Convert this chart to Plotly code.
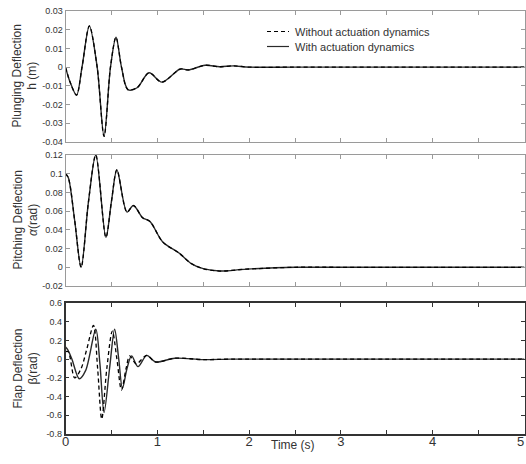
import plotly.graph_objects as go

# ---- data ----
t_h = [0, 0.05, 0.12, 0.18, 0.26, 0.345, 0.42, 0.49, 0.55, 0.61, 0.68, 0.78, 0.91, 1.05, 1.25, 1.34, 1.52, 1.68, 1.83, 2.0, 2.5, 3.0, 3.5, 4.0, 4.5, 5.0]
h_without = [0, -0.008, -0.015, 0.0, 0.022, 0.0, -0.037, 0.0, 0.016, 0.0, -0.012, -0.011, -0.003, -0.008, -0.001, -0.0015, 0.001, 0.0002, 0.0007, 0.0, 0, 0, 0, 0, 0, 0]
h_with = [0, -0.008, -0.015, 0.0, 0.022, 0.0, -0.037, 0.0, 0.016, 0.0, -0.012, -0.011, -0.003, -0.008, -0.001, -0.0015, 0.001, 0.0002, 0.0007, 0.0, 0, 0, 0, 0, 0, 0]

t_a = [0, 0.03, 0.1, 0.17, 0.25, 0.33, 0.44, 0.5, 0.56, 0.67, 0.74, 0.84, 0.92, 1.06, 1.24, 1.37, 1.5, 1.68, 1.97, 2.5, 3.0, 3.5, 4.0, 4.5, 5.0]
a_without = [0.1, 0.096, 0.05, 0.0, 0.07, 0.12, 0.032, 0.07, 0.104, 0.059, 0.066, 0.053, 0.049, 0.027, 0.015, 0.004, -0.0015, -0.004, -0.002, 0, 0, 0, 0, 0, 0]
a_with = [0.1, 0.096, 0.05, 0.0, 0.07, 0.12, 0.032, 0.07, 0.104, 0.059, 0.066, 0.053, 0.049, 0.027, 0.015, 0.004, -0.0015, -0.004, -0.002, 0, 0, 0, 0, 0, 0]

t_b_without = [0, 0.03, 0.1, 0.17, 0.23, 0.305, 0.35, 0.395, 0.45, 0.51, 0.56, 0.61, 0.66, 0.70, 0.77, 0.885, 0.98, 1.19, 1.5, 1.8, 2.5, 3.0, 3.5, 4.0, 4.5, 5.0]
b_without = [0.08, 0.08, -0.2, -0.1, 0.1, 0.36, -0.1, -0.64, -0.1, 0.30, 0.0, -0.33, -0.1, 0.035, -0.05, 0.04, -0.03, 0.01, -0.005, 0, 0, 0, 0, 0, 0, 0]
t_b_with = [0, 0.025, 0.07, 0.15, 0.22, 0.33, 0.375, 0.42, 0.48, 0.535, 0.58, 0.62, 0.67, 0.72, 0.79, 0.885, 0.98, 1.19, 1.5, 1.8, 2.5, 3.0, 3.5, 4.0, 4.5, 5.0]
b_with = [0.13, 0.1, 0.0, -0.21, -0.12, 0.32, -0.05, -0.57, -0.1, 0.32, 0.0, -0.31, -0.1, 0.035, -0.08, 0.04, -0.03, 0.01, -0.005, 0, 0, 0, 0, 0, 0, 0]

x_ticks = [0, 0.5, 1, 1.5, 2, 2.5, 3, 3.5, 4, 4.5, 5]
x_ticktext = ["0", "", "1", "", "2", "", "3", "", "4", "", ""]
x_last_label = "5"
h_ticks = [-0.04, -0.03, -0.02, -0.01, 0, 0.01, 0.02, 0.03]
h_ticktext = ["-0.04", "-0.03", "-0.02", "-0.01", "0", "0.01", "0.02", "0.03"]
a_ticks = [-0.02, 0, 0.02, 0.04, 0.06, 0.08, 0.1, 0.12]
a_ticktext = ["-0.02", "0", "0.02", "0.04", "0.06", "0.08", "0.1", "0.12"]
b_ticks = [-0.8, -0.6, -0.4, -0.2, 0, 0.2, 0.4, 0.6]
b_ticktext = ["-0.8", "-0.6", "-0.4", "-0.2", "0", "0.2", "0.4", "0.6"]
legend_labels = ["Without actuation dynamics", "With actuation dynamics"]

FONT = "Liberation Sans, Arial, sans-serif"
W, H = 526, 464
LIGHT_FRAME = "#9a9a9a"
DARK_FRAME = "#333333"
TXT = "#333333"
SOLID = dict(color="#2a2a2a", width=1.4, shape="spline", smoothing=0.9)
DASH = dict(color="#000000", width=1.3, dash="4px,3px", shape="spline", smoothing=0.9)

def py(p):
    return 1 - p / H

fig = go.Figure()

def add_pair(tx_wo, y_wo, tx_w, y_w, xa, ya):
    fig.add_trace(go.Scatter(x=tx_w, y=y_w, mode="lines", name=legend_labels[1],
                             line=SOLID, xaxis=xa, yaxis=ya, showlegend=False))
    fig.add_trace(go.Scatter(x=tx_wo, y=y_wo, mode="lines", name=legend_labels[0],
                             line=DASH, xaxis=xa, yaxis=ya, showlegend=False))

add_pair(t_h, h_without, t_h, h_with, "x", "y")
add_pair(t_a, a_without, t_a, a_with, "x2", "y2")
add_pair(t_b_without, b_without, t_b_with, b_with, "x3", "y3")

xdom = [65.5 / W, 524.5 / W]

def xax(color, width, anchor, text):
    return dict(range=[0, 5], tickmode="array", tickvals=x_ticks, ticktext=text, ticks="inside", ticklen=4,
                tickcolor=color, showline=True, linecolor=color, linewidth=width, mirror="allticks",
                showgrid=False, zeroline=False, domain=xdom, automargin=False, anchor=anchor,
                ticklabelstandoff=-5,
                tickfont=dict(family=FONT, size=13, color=TXT))

def yax(color, width, anchor, rng, vals, text, dom):
    return dict(ticks="inside", ticklen=4, tickcolor=color, showline=True, linecolor=color,
                linewidth=width, mirror="allticks", showgrid=False, zeroline=False, automargin=False,
                tickmode="array", tickvals=vals, ticktext=text, range=rng, anchor=anchor, domain=dom,
                tickfont=dict(family=FONT, size=9, color=TXT))

blank = [""] * len(x_ticks)
fig.update_layout(
    width=W, height=H, margin=dict(l=0, r=0, t=0, b=0),
    paper_bgcolor="white", plot_bgcolor="white",
    xaxis=xax(LIGHT_FRAME, 1, "y", blank),
    xaxis2=xax(LIGHT_FRAME, 1, "y2", blank),
    xaxis3=xax(DARK_FRAME, 1.6, "y3", x_ticktext),
    yaxis=yax(LIGHT_FRAME, 1, "x", [-0.04, 0.03], h_ticks, h_ticktext, [py(142), py(11)]),
    yaxis2=yax(LIGHT_FRAME, 1, "x2", [-0.02, 0.12], a_ticks, a_ticktext, [py(286), py(155)]),
    yaxis3=yax(DARK_FRAME, 1.6, "x3", [-0.8, 0.6], b_ticks, b_ticktext, [py(434), py(303)]),
    showlegend=False,
)

# last x tick label, kept inside the page
fig.add_annotation(text=x_last_label, x=1.0, y=py(441), xref="paper", yref="paper", showarrow=False,
                   xanchor="right", yanchor="middle", font=dict(family=FONT, size=13, color=TXT))

# legend (drawn inside the top panel)
legend_rows = [(31.5, DASH), (46.5, SOLID)]
for label, (yrow, style) in zip(legend_labels, legend_rows):
    fig.add_shape(type="line", xref="paper", yref="paper", x0=267 / W, x1=289 / W, y0=py(yrow), y1=py(yrow),
                  line=dict(color=style["color"], width=1.2, dash=style.get("dash", "solid")))
    fig.add_annotation(text=label, x=293 / W, y=py(yrow), xref="paper", yref="paper", showarrow=False,
                       xanchor="left", yanchor="middle", font=dict(family=FONT, size=11, color=TXT))

ann = [
    ("Plunging Deflection<br>h (m)", (11 + 142) / 2),
    ("Pitching Deflection<br><i>α</i>(rad)", (155 + 286) / 2),
    ("Flap Deflection<br>β(rad)", (303 + 434) / 2),
]
for text, yc in ann:
    fig.add_annotation(text=text, x=25 / W, y=py(yc), xref="paper", yref="paper", textangle=-90,
                       showarrow=False, xanchor="center", yanchor="middle",
                       font=dict(family=FONT, size=12, color=TXT))

fig.add_annotation(text="Time (s)", x=293 / W, y=py(444.5), xref="paper", yref="paper", showarrow=False,
                   xanchor="center", yanchor="middle", font=dict(family=FONT, size=12, color=TXT))

fig.write_html("out.html")
